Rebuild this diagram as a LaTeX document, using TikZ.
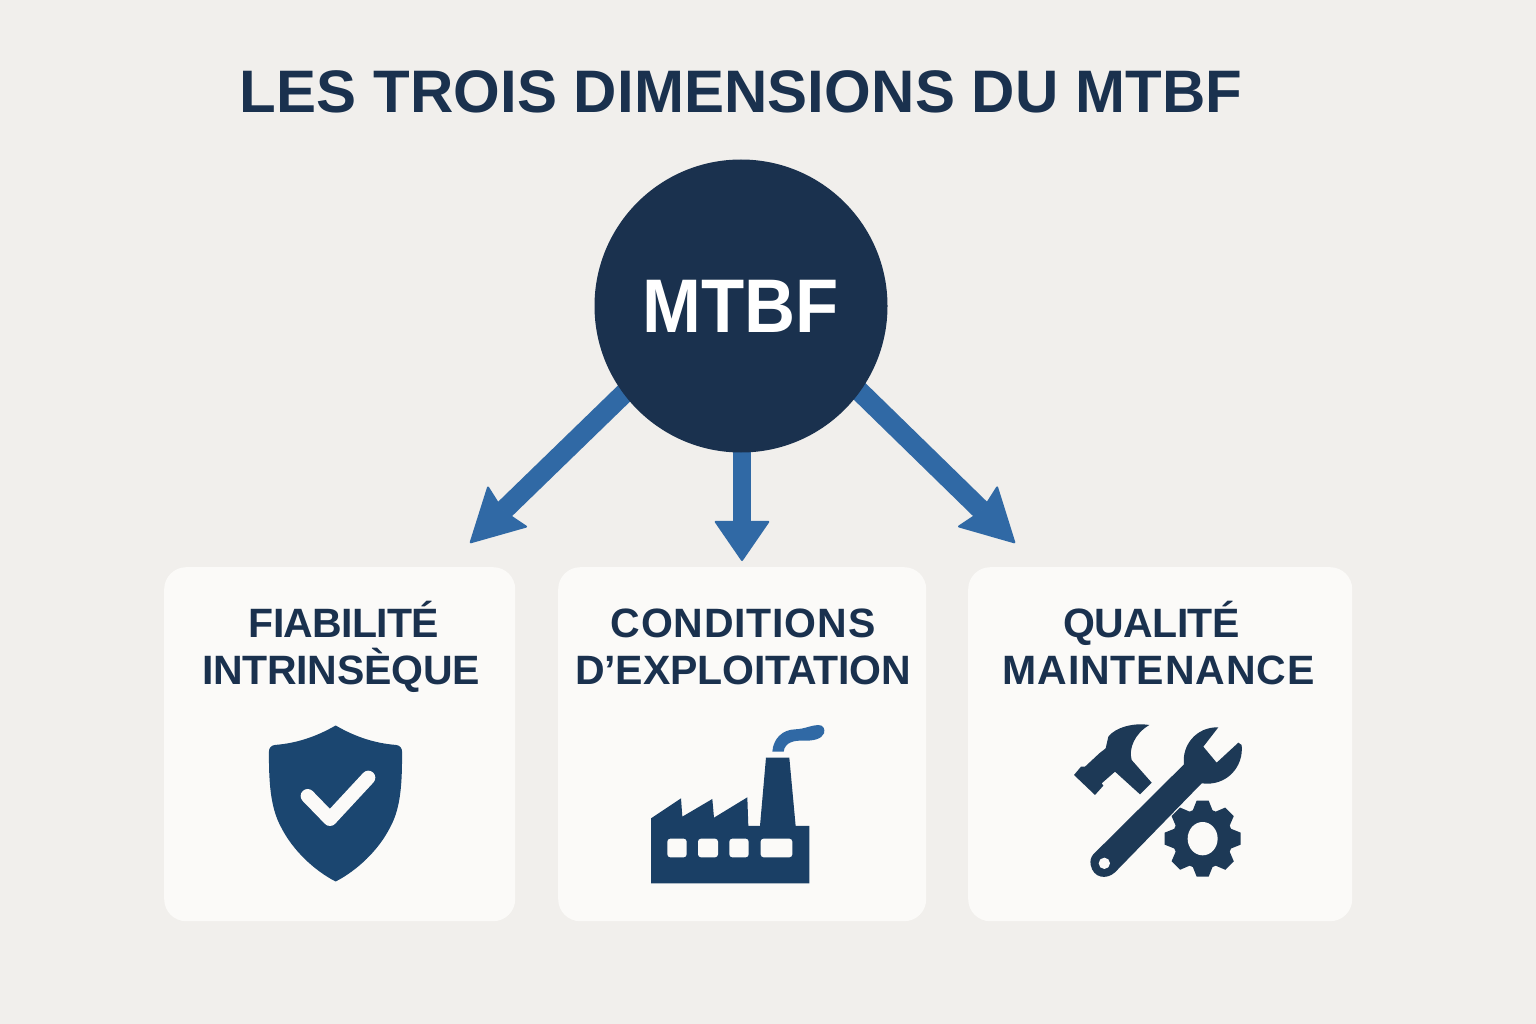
\documentclass[tikz,border=0pt]{standalone}
\usepackage{fontspec}
\setmainfont{Liberation Sans}
\usetikzlibrary{arrows.meta}
\definecolor{bgc}{HTML}{F1EFEC}
\definecolor{cardc}{HTML}{FBFAF8}
\definecolor{navy}{HTML}{1A314E}
\definecolor{arrowc}{HTML}{3069A5}
\definecolor{shieldc}{HTML}{1B4670}
\definecolor{factc}{HTML}{1A3F65}
\definecolor{toolc}{HTML}{1D3956}
\pgfdeclarelayer{under}
\pgfsetlayers{under,main}
\newcommand{\lsp}[2]{{\addfontfeature{LetterSpace=#1}#2}}
\tikzset{
  card/.style={draw=none,fill=cardc,rounded corners=22pt,inner sep=0pt,anchor=north west},
  cardtext/.style={text=navy,font=\fontsize{41}{47}\selectfont\bfseries,align=center,inner sep=0pt},
  conn/.style={draw=arrowc,line width=18pt},
  conndiag/.style={draw=arrowc,line width=20pt},
  diagtip/.style={-{Stealth[length=54pt,width=58pt,inset=6pt,round,line width=2pt]}},
  midtip/.style={-{Triangle[length=41pt,width=56pt,round,line width=2pt]}},
}
\begin{document}
\begin{tikzpicture}[x=1pt,y=-1pt]
\useasboundingbox (0,0) rectangle (1536,1024);
\node[text=navy,font=\fontsize{60}{60}\selectfont\bfseries,inner sep=0pt,anchor=base] (title) at (741,113) {\lsp{0.2}{LES TROIS DIMENSIONS DU MTBF}};
\node[circle,fill=navy,minimum size=293pt,inner sep=0pt,text=white,font=\fontsize{76}{76}\selectfont\bfseries] (hub) at (741,306) {\addfontfeature{FakeStretch=0.93}MTBF};
\node[card,minimum width=351pt,minimum height=354pt] (card1) at (164,567) {};
\node[card,minimum width=368pt,minimum height=354pt] (card2) at (558,567) {};
\node[card,minimum width=384pt,minimum height=354pt] (card3) at (968,567) {};
\node[cardtext] (lab1) at (341,647) {\hspace*{6pt}\lsp{-1.6}{FIABILITÉ}\\\lsp{-0.7}{INTRINSÈQUE}};
\node[cardtext] (lab2) at (743,647) {\lsp{2}{CONDITIONS}\\\lsp{-0.4}{D’EXPLOITATION}};
\node[cardtext] (lab3) at (1158.5,643) {\lsp{-1.7}{QUALITÉ}\hspace*{14pt}\\\lsp{2.2}{MAINTENANCE}};
\coordinate (s1) at (640,378);
\coordinate (s2) at (742,400);
\coordinate (s3) at (850,382);
\coordinate (t1) at (470,543);
\coordinate (t2) at (742,561);
\coordinate (t3) at (1015,543);
\begin{pgfonlayer}{under}
\fill[bgc] (0,0) rectangle (1536,1024);
\draw[conndiag,diagtip] (s1) -- (t1);
\draw[conn,midtip] (s2) -- (t2);
\draw[conndiag,diagtip] (s3) -- (t3);
\end{pgfonlayer}
% shield
\begin{scope}[shift={(240,710)},x=0.3333pt,y=-0.3333pt]
\fill[shieldc,draw=shieldc,line width=1.5pt,line join=round]
 (287,49) .. controls (230,82) and (170,102) .. (106,107)
 .. controls (94,108) and (89,116) .. (89,126)
 .. controls (89,210) and (92,290) .. (125,350)
 .. controls (160,420) and (225,480) .. (287,512)
 .. controls (349,480) and (414,420) .. (449,350)
 .. controls (482,290) and (484,210) .. (484,126)
 .. controls (484,116) and (479,108) .. (467,107)
 .. controls (403,102) and (344,82) .. (287,49) -- cycle;
\draw[cardc,line width=14pt,line cap=round,line join=round] (203,258) -- (270,327) -- (385,203);
\end{scope}
% factory
\begin{scope}[shift={(640,715)},x=0.3333pt,y=-0.3333pt]
\fill[factc,line join=round] (33,505) -- (33,310) -- (123,250) -- (127,305) -- (217,252) -- (222,308) -- (322,247) -- (325,333) -- (360,333) -- (378,128) -- (448,128) -- (467,333) -- (508,333) -- (508,505) -- cycle;
\fill[cardc,rounded corners=3pt] (82,371) rectangle (140,427);
\fill[cardc,rounded corners=3pt] (174,371) rectangle (234,427);
\fill[cardc,rounded corners=3pt] (268,371) rectangle (326,427);
\fill[cardc,rounded corners=3pt] (362,371) rectangle (457,427);
\fill[arrowc] (397,110) .. controls (400,70) and (428,44) .. (465,43)
 .. controls (495,42) and (515,30) .. (535,30)
 .. controls (550,30) and (556,42) .. (552,55)
 .. controls (545,72) and (520,78) .. (490,77)
 .. controls (465,76) and (435,80) .. (431,110) -- cycle;
\end{scope}
% tools
\begin{scope}[shift={(1060,715)},x=0.3333pt,y=-0.3333pt]
\fill[toolc] (268,30) .. controls (220,22) and (165,38) .. (145,65)
 -- (137,100) -- (118,115) -- (75,155) -- (63,155) -- (42,180) -- (105,240) -- (130,212) -- (125,205) -- (165,170) -- (240,238) -- (275,203) -- (215,135)
 .. controls (205,100) and (225,55) .. (268,30) -- cycle;
\fill[toolc] (100,418) -- (372,148) .. controls (365,90) and (410,35) .. (475,37)
 -- (430,95) -- (470,143) -- (535,83) -- (545,90)
 .. controls (552,155) and (500,215) .. (425,205)
 -- (165,472) .. controls (140,495) and (100,490) .. (92,450)
 .. controls (90,437) and (92,428) .. (100,418) -- cycle;
\fill[cardc] (133,445) circle (17);
\fill[toolc] (428,371) circle (90);
\foreach \a in {0,45,...,315}{
 \fill[toolc,rotate around={\a:(428,371)}] (396,292) -- (410,257) -- (446,257) -- (460,292) -- cycle;
}
\fill[cardc] (428,371) ellipse (45 and 50);
\end{scope}
\end{tikzpicture}
\end{document}
